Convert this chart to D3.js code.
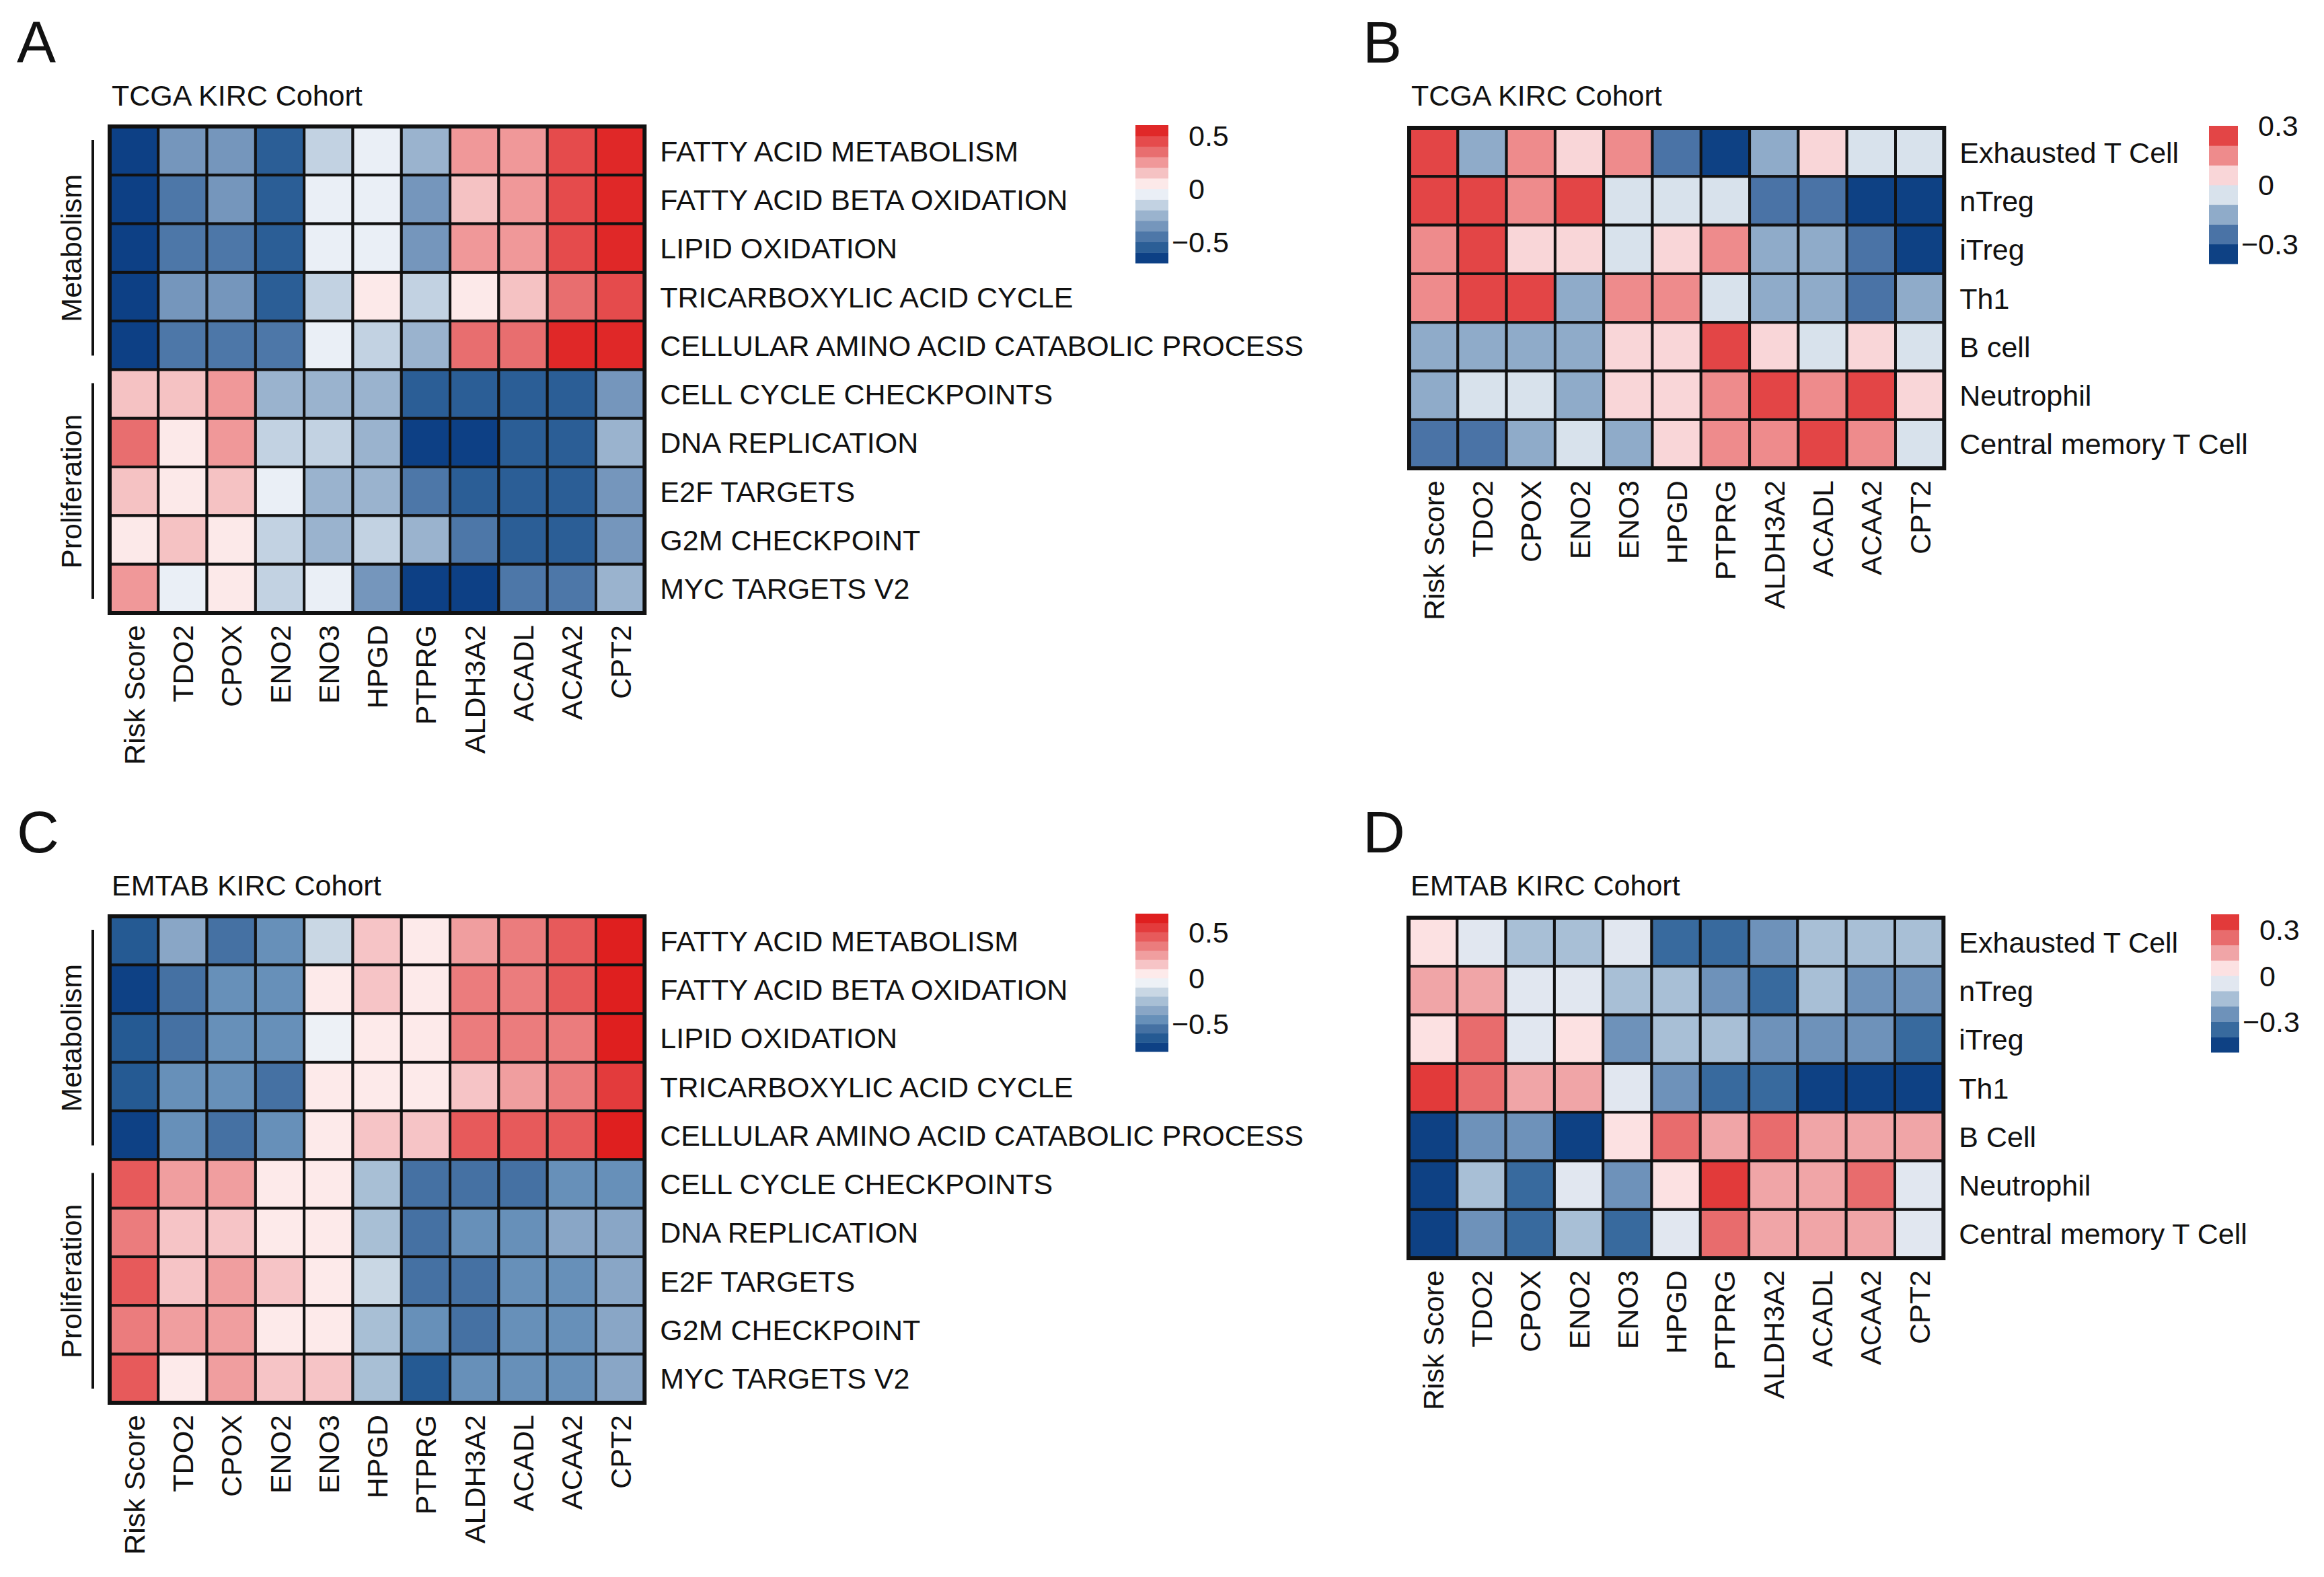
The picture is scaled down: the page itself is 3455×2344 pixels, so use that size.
<!DOCTYPE html>
<meta charset="utf-8">
<script src="https://d3js.org/d3.v7.min.js"></script>
<style>
    body { margin: 0; background: #fff; }
    text { font-family: "Liberation Sans", Arial, sans-serif; fill: #111; }
</style>
<body>
<div id="my_dataviz"></div>
<script>

    // ---- data ----
    const genes = ["Risk Score", "TDO2", "CPOX", "ENO2", "ENO3", "HPGD", "PTPRG", "ALDH3A2", "ACADL", "ACAA2", "CPT2"]

    const pathways = ["FATTY ACID METABOLISM", "FATTY ACID BETA OXIDATION", "LIPID OXIDATION",
                      "TRICARBOXYLIC ACID CYCLE", "CELLULAR AMINO ACID CATABOLIC PROCESS",
                      "CELL CYCLE CHECKPOINTS", "DNA REPLICATION", "E2F TARGETS", "G2M CHECKPOINT", "MYC TARGETS V2"]
    const pathwayGroups = ["Metabolism", "Metabolism", "Metabolism", "Metabolism", "Metabolism",
                           "Proliferation", "Proliferation", "Proliferation", "Proliferation", "Proliferation"]

    const cellsTcga = ["Exhausted T Cell", "nTreg", "iTreg", "Th1", "B cell", "Neutrophil", "Central memory T Cell"]
    const cellsEmtab = ["Exhausted T Cell", "nTreg", "iTreg", "Th1", "B Cell", "Neutrophil", "Central memory T Cell"]

    // A: TCGA pathways vs genes
    const corrA = [
        [-0.65, -0.35, -0.35, -0.55, -0.15, -0.05, -0.25,  0.25,  0.25,  0.45,  0.55],
        [-0.65, -0.45, -0.35, -0.55, -0.05, -0.05, -0.35,  0.15,  0.25,  0.45,  0.55],
        [-0.65, -0.45, -0.45, -0.55, -0.05, -0.05, -0.35,  0.25,  0.25,  0.45,  0.55],
        [-0.65, -0.35, -0.35, -0.55, -0.15,  0.05, -0.15,  0.05,  0.15,  0.35,  0.45],
        [-0.65, -0.45, -0.45, -0.45, -0.05, -0.15, -0.25,  0.35,  0.35,  0.55,  0.55],
        [ 0.15,  0.15,  0.25, -0.25, -0.25, -0.25, -0.55, -0.55, -0.55, -0.55, -0.35],
        [ 0.35,  0.05,  0.25, -0.15, -0.15, -0.25, -0.65, -0.65, -0.55, -0.55, -0.25],
        [ 0.15,  0.05,  0.15, -0.05, -0.25, -0.25, -0.45, -0.55, -0.55, -0.55, -0.35],
        [ 0.05,  0.15,  0.05, -0.15, -0.25, -0.15, -0.25, -0.45, -0.55, -0.55, -0.35],
        [ 0.25, -0.05,  0.05, -0.15, -0.05, -0.35, -0.65, -0.65, -0.45, -0.45, -0.25]
    ]

    // B: TCGA immune cells vs genes
    const corrB = [
        [ 0.25, -0.15,  0.15,  0.05,  0.15, -0.25, -0.35, -0.15,  0.05, -0.05, -0.05],
        [ 0.25,  0.25,  0.15,  0.25, -0.05, -0.05, -0.05, -0.25, -0.25, -0.35, -0.35],
        [ 0.15,  0.25,  0.05,  0.05, -0.05,  0.05,  0.15, -0.15, -0.15, -0.25, -0.35],
        [ 0.15,  0.25,  0.25, -0.15,  0.15,  0.15, -0.05, -0.15, -0.15, -0.25, -0.15],
        [-0.15, -0.15, -0.15, -0.15,  0.05,  0.05,  0.25,  0.05, -0.05,  0.05, -0.05],
        [-0.15, -0.05, -0.05, -0.15,  0.05,  0.05,  0.15,  0.25,  0.15,  0.25,  0.05],
        [-0.25, -0.25, -0.15, -0.05, -0.15,  0.05,  0.15,  0.15,  0.25,  0.15, -0.05]
    ]

    // C: EMTAB pathways vs genes
    const corrC = [
        [-0.65, -0.35, -0.55, -0.45, -0.15,  0.15,  0.05,  0.25,  0.35,  0.45,  0.65],
        [-0.75, -0.55, -0.45, -0.45,  0.05,  0.15,  0.05,  0.35,  0.35,  0.45,  0.65],
        [-0.65, -0.55, -0.45, -0.45, -0.05,  0.05,  0.05,  0.35,  0.35,  0.35,  0.65],
        [-0.65, -0.45, -0.45, -0.55,  0.05,  0.05,  0.05,  0.15,  0.25,  0.35,  0.55],
        [-0.75, -0.45, -0.55, -0.45,  0.05,  0.15,  0.15,  0.45,  0.45,  0.45,  0.65],
        [ 0.45,  0.25,  0.25,  0.05,  0.05, -0.25, -0.55, -0.55, -0.55, -0.45, -0.45],
        [ 0.35,  0.15,  0.15,  0.05,  0.05, -0.25, -0.55, -0.45, -0.45, -0.35, -0.35],
        [ 0.45,  0.15,  0.25,  0.15,  0.05, -0.15, -0.55, -0.55, -0.45, -0.45, -0.35],
        [ 0.35,  0.25,  0.25,  0.05,  0.05, -0.25, -0.45, -0.55, -0.45, -0.45, -0.35],
        [ 0.45,  0.05,  0.25,  0.15,  0.15, -0.25, -0.65, -0.45, -0.45, -0.45, -0.35]
    ]

    // D: EMTAB immune cells vs genes
    const corrD = [
        [ 0.05, -0.05, -0.15, -0.15, -0.05, -0.35, -0.35, -0.25, -0.15, -0.15, -0.15],
        [ 0.15,  0.15, -0.05, -0.05, -0.15, -0.15, -0.25, -0.35, -0.15, -0.25, -0.25],
        [ 0.05,  0.25, -0.05,  0.05, -0.25, -0.15, -0.15, -0.25, -0.25, -0.25, -0.35],
        [ 0.35,  0.25,  0.15,  0.15, -0.05, -0.25, -0.35, -0.35, -0.45, -0.45, -0.45],
        [-0.45, -0.25, -0.25, -0.45,  0.05,  0.25,  0.15,  0.25,  0.15,  0.15,  0.15],
        [-0.45, -0.15, -0.35, -0.05, -0.25,  0.05,  0.35,  0.15,  0.15,  0.25, -0.05],
        [-0.45, -0.25, -0.35, -0.15, -0.35, -0.05,  0.25,  0.15,  0.15,  0.15, -0.05]
    ]

    // legend ticks
    const ticksAC = [-0.5, 0, 0.5]
    const ticksBD = [-0.3, 0, 0.3]

    // ---- colour palettes (low -> high), one bin per 0.1 ----
    const palA = ["#0D4085", "#2B5E96", "#4D77A8", "#7596BC", "#9AB3CE", "#C2D2E2", "#EAEFF6",
                  "#FCE9E9", "#F5C2C3", "#F09899", "#E86E6F", "#E54B4C", "#E02828"]
    const palB = ["#0E4184", "#4A73A6", "#8FABC9", "#D8E2EC", "#F9D6D8", "#EE8B8C", "#E34546"]
    const palC = ["#0E4185", "#255A93", "#4571A3", "#6790B9", "#89A6C6", "#A8BFD5", "#C9D7E4", "#EDF1F6",
                  "#FDEAEA", "#F6C4C6", "#F09E9F", "#EB7C7D", "#E75A5B", "#E33B3C", "#DF1F1F"]
    const palD = ["#0E4184", "#386A9E", "#6E92BA", "#A8BFD6", "#E1E7F0", "#FCE1E2", "#F0A5A7", "#E86C6D", "#E23A3A"]

    const W = 3455, H = 2344
    const cell = 72.3
    const fs = 43

    const svg = d3.select("#my_dataviz")
                  .append("svg")
                    .attr("width", W)
                    .attr("height", H)

    function drawPanel(p) {
        const g = svg.append("g")

        const x = d3.scaleBand().domain(genes).range([p.x0, p.x0 + cell * genes.length])
        const y = d3.scaleBand().domain(p.rows).range([p.y0, p.y0 + cell * p.rows.length])

        // bins of 0.1 between lo and hi
        const breaks = d3.range(p.lo + 1, p.hi).map(i => i / 10)
        const color = d3.scaleThreshold().domain(breaks).range(p.pal)

        // panel letter + title
        g.append("text")
            .attr("x", p.lx).attr("y", p.ty - 64)
            .style("font-size", "87px")
            .text(p.letter)
        g.append("text")
            .attr("x", p.x0 + 3).attr("y", p.ty)
            .style("font-size", fs + "px")
            .text(p.title)

        // cells
        const cells = []
        p.values.forEach((row, i) => row.forEach((v, j) => cells.push({r: p.rows[i], c: genes[j], v: v})))
        g.selectAll("rect.cell")
            .data(cells)
            .join("rect")
              .attr("class", "cell")
              .attr("x", d => x(d.c))
              .attr("y", d => y(d.r))
              .attr("width", x.bandwidth())
              .attr("height", y.bandwidth())
              .style("fill", d => color(d.v))
              .style("stroke", "#111")
              .style("stroke-width", 4)
        g.append("rect")
            .attr("x", x.range()[0]).attr("y", y.range()[0])
            .attr("width", x.range()[1] - x.range()[0])
            .attr("height", y.range()[1] - y.range()[0])
            .style("fill", "none").style("stroke", "#111").style("stroke-width", 6)

        // row labels
        g.selectAll("text.rowlab")
            .data(p.rows)
            .join("text")
              .attr("class", "rowlab")
              .attr("x", x.range()[1] + 23)
              .attr("y", d => y(d) + y.bandwidth() / 2)
              .attr("dy", "0.36em")
              .style("font-size", fs + "px")
              .text(d => d)

        // column labels
        const yb = y.range()[1] + 18
        g.selectAll("text.collab")
            .data(genes)
            .join("text")
              .attr("class", "collab")
              .attr("transform", d => `translate(${x(d) + x.bandwidth() / 2},${yb}) rotate(-90)`)
              .attr("dy", "0.36em")
              .style("text-anchor", "end")
              .style("font-size", fs + "px")
              .text(d => d)

        // row groups
        if (p.groups) {
            const names = Array.from(new Set(p.groups))
            names.forEach(name => {
                const idx = p.groups.map((gname, i) => gname === name ? i : -1).filter(i => i >= 0)
                const top = y(p.rows[idx[0]]), bot = y(p.rows[idx[idx.length - 1]]) + y.bandwidth()
                g.append("line")
                    .attr("x1", p.x0 - 25).attr("x2", p.x0 - 25)
                    .attr("y1", top + 20).attr("y2", bot - 21)
                    .style("stroke", "#111").style("stroke-width", 4)
                g.append("text")
                    .attr("transform", `translate(${p.x0 - 42},${(top + bot) / 2}) rotate(-90)`)
                    .style("text-anchor", "middle")
                    .style("font-size", fs + "px")
                    .text(name)
            })
        }

        // legend
        const ly = d3.scaleLinear().domain([p.lo / 10, p.hi / 10]).range([p.legY + 205, p.legY])
        const bins = d3.range(p.lo, p.hi).map(i => [i / 10, (i + 1) / 10])
        g.selectAll("rect.leg")
            .data(bins)
            .join("rect")
              .attr("class", "leg")
              .attr("x", p.legX)
              .attr("y", d => ly(d[1]))
              .attr("width", p.legW)
              .attr("height", d => ly(d[0]) - ly(d[1]) + 0.5)
              .style("fill", d => color((d[0] + d[1]) / 2))
        g.selectAll("text.legtick")
            .data(p.ticks)
            .join("text")
              .attr("class", "legtick")
              .attr("x", d => p.legX + p.legW + (d < 0 ? 5 : 30))
              .attr("y", d => ly(d))
              .attr("dy", "0.36em")
              .style("font-size", fs + "px")
              .text(d => d < 0 ? "\u2212" + Math.abs(d) : d)
    }

    drawPanel({letter: "A", lx: 25, title: "TCGA KIRC Cohort", x0: 163, y0: 188, ty: 157,
               rows: pathways, groups: pathwayGroups, values: corrA,
               pal: palA, lo: -7, hi: 6, ticks: ticksAC, legX: 1688, legY: 186, legW: 49})
    drawPanel({letter: "B", lx: 2026, title: "TCGA KIRC Cohort", x0: 2095, y0: 190, ty: 157,
               rows: cellsTcga, values: corrB,
               pal: palB, lo: -4, hi: 3, ticks: ticksBD, legX: 3284, legY: 187, legW: 43})
    drawPanel({letter: "C", lx: 25, title: "EMTAB KIRC Cohort", x0: 163, y0: 1362, ty: 1331,
               rows: pathways, groups: pathwayGroups, values: corrC,
               pal: palC, lo: -8, hi: 7, ticks: ticksAC, legX: 1688, legY: 1358, legW: 49})
    drawPanel({letter: "D", lx: 2026, title: "EMTAB KIRC Cohort", x0: 2094, y0: 1364, ty: 1331,
               rows: cellsEmtab, values: corrD,
               pal: palD, lo: -5, hi: 4, ticks: ticksBD, legX: 3287, legY: 1359, legW: 42})

</script>
</body>
